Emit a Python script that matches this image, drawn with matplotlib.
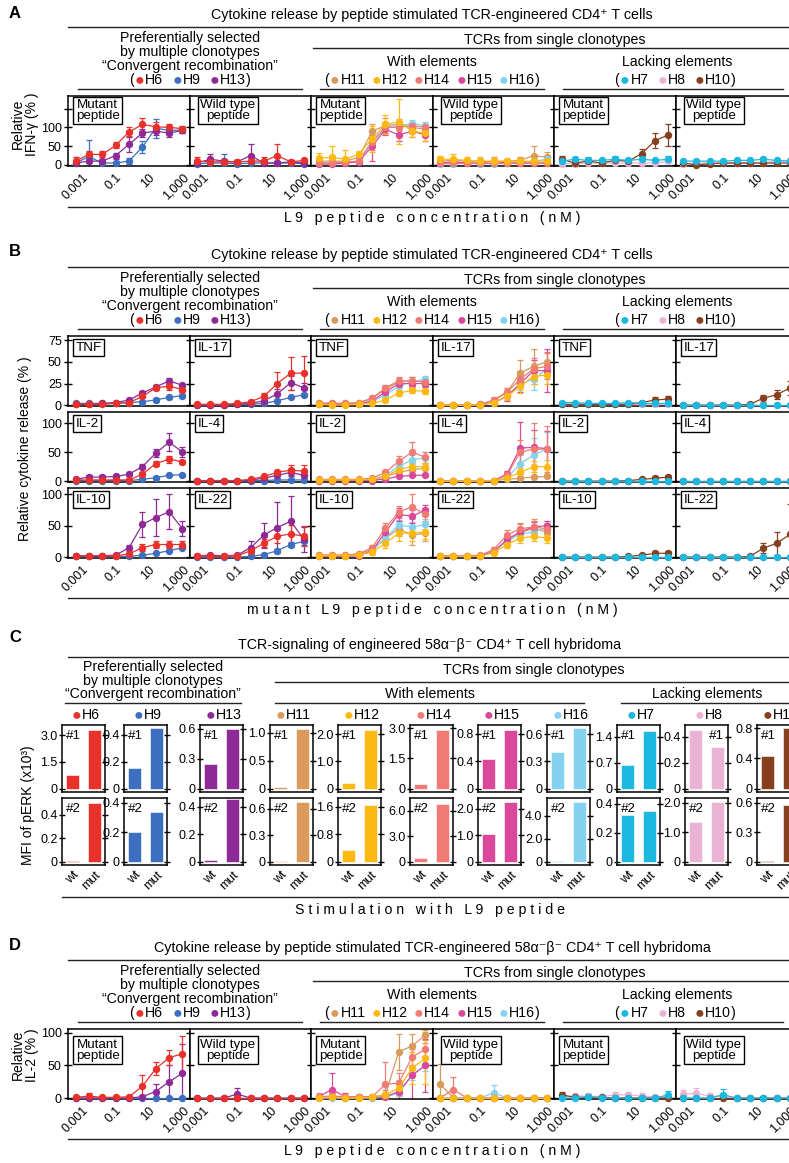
import matplotlib
matplotlib.use("Agg")
import matplotlib.pyplot as plt
from matplotlib.lines import Line2D
from matplotlib.ticker import NullLocator

plt.rcParams['font.family'] = ['Liberation Sans', 'DejaVu Sans']
plt.rcParams['axes.linewidth'] = 1.1

# 数据
conc = [0.0004, 0.0025, 0.016, 0.1, 0.64, 4, 25, 160, 1000]

COL = {"H6": "#e8312b", "H9": "#3d6fc0", "H13": "#8e2a96",
       "H11": "#d99a5c", "H12": "#fdb913", "H14": "#f07b74", "H15": "#d9489a", "H16": "#82d2f0",
       "H7": "#1bb8e0", "H8": "#ebb3d3", "H10": "#86401f"}
G1 = ["H6", "H9", "H13"]
G2 = ["H11", "H12", "H14", "H15", "H16"]
G3 = ["H7", "H8", "H10"]
# 绘制顺序（后画的在上面）
ORDER = [["H9", "H13", "H6"], ["H11", "H16", "H15", "H14", "H12"], ["H8", "H10", "H7"]]

# A: IFN-gamma
A_mut = {"H6": [10, 28, 28, 52, 88, 108, 102, 100, 97],
         "H9": [5, 22, 5, 5, 10, 48, 98, 92, 93],
         "H13": [5, 10, 10, 25, 55, 85, 90, 85, 92],
         "H11": [10, 10, 10, 20, 90, 105, 108, 100, 95],
         "H12": [18, 20, 15, 28, 70, 108, 115, 90, 85],
         "H14": [5, 5, 8, 10, 60, 100, 100, 105, 100],
         "H15": [2, 2, 5, 8, 50, 95, 80, 90, 80],
         "H16": [5, 5, 5, 10, 65, 100, 105, 110, 105],
         "H7": [10, 15, 12, 12, 15, 12, 15, 12, 15],
         "H8": [3, 3, 5, 5, 5, 5, 5, 5, 10],
         "H10": [15, 5, 10, 5, 12, 10, 30, 65, 80]}
A_mut_err = {"H6": [10, 10, 8, 8, 12, 18, 12, 8, 8],
             "H9": [15, 45, 5, 5, 8, 15, 25, 8, 8],
             "H13": [5, 5, 5, 8, 20, 10, 10, 10, 8],
             "H11": [8, 8, 8, 8, 20, 20, 15, 15, 15],
             "H12": [15, 30, 25, 10, 35, 25, 60, 15, 20],
             "H14": [5, 5, 5, 5, 20, 15, 10, 10, 10],
             "H15": [5, 5, 5, 5, 40, 15, 15, 15, 15],
             "H16": [5, 5, 5, 5, 15, 15, 10, 10, 10],
             "H7": [5, 5, 8, 5, 8, 5, 8, 5, 8],
             "H8": [3, 3, 3, 3, 3, 3, 3, 3, 5],
             "H10": [10, 5, 8, 5, 8, 5, 12, 20, 30]}
A_wt = {"H6": [10, 8, 8, 8, 10, 10, 25, 8, 12],
        "H9": [3, 5, 5, 3, 5, 5, 5, 5, 3],
        "H13": [5, 15, 10, 8, 25, 5, 5, 8, 5],
        "H11": [10, 12, 10, 10, 8, 10, 12, 25, 20],
        "H12": [15, 15, 12, 10, 10, 10, 10, 10, 10],
        "H14": [5, 5, 5, 5, 5, 5, 5, 5, 5],
        "H15": [5, 8, 5, 5, 10, 5, 5, 5, 5],
        "H16": [3, 3, 5, 3, 3, 5, 5, 10, 15],
        "H7": [10, 10, 10, 10, 12, 12, 15, 12, 10],
        "H8": [3, 5, 5, 5, 5, 5, 5, 10, 12],
        "H10": [5, 0, 3, 5, 5, 5, 5, 5, 5]}
A_wt_err = {"H6": [10, 8, 5, 5, 5, 10, 30, 5, 5],
            "H9": [5, 5, 25, 5, 5, 5, 5, 5, 5],
            "H13": [5, 15, 5, 5, 30, 5, 5, 5, 5],
            "H11": [5, 5, 5, 5, 5, 5, 10, 25, 15],
            "H12": [10, 15, 10, 10, 10, 5, 5, 5, 5],
            "H15": [3, 5, 3, 3, 10, 3, 3, 3, 3],
            "H7": [3, 3, 3, 3, 5, 3, 5, 3, 3],
            "H8": [3, 3, 3, 3, 3, 3, 3, 5, 5],
            "H10": [3, 3, 3, 5, 3, 3, 3, 3, 3]}

# B: 细胞因子
TNF = {"H6": [1, 1, 1, 2, 3, 10, 20, 22, 18],
       "H9": [2, 2, 2, 2, 3, 4, 6, 9, 11],
       "H13": [1, 1, 2, 3, 6, 14, 21, 28, 23],
       "H11": [2, 2, 2, 2, 8, 18, 27, 28, 27],
       "H12": [1, 0, 0, 1, 2, 6, 14, 17, 16],
       "H14": [3, 2, 2, 3, 8, 20, 28, 28, 27],
       "H15": [1, 1, 1, 1, 5, 15, 25, 25, 25],
       "H16": [1, 1, 1, 1, 4, 12, 22, 27, 30],
       "H7": [3, 3, 2, 2, 2, 3, 2, 2, 2],
       "H8": [1, 1, 1, 1, 1, 1, 1, 1, 1],
       "H10": [1, 1, 1, 1, 1, 1, 3, 6, 7]}
TNF_err = {"H6": [1, 1, 1, 1, 1, 2, 3, 4, 3], "H9": [1, 1, 1, 1, 1, 1, 2, 2, 2],
           "H13": [1, 1, 1, 1, 1, 2, 2, 3, 2], "H11": [1, 1, 1, 1, 2, 3, 4, 4, 4],
           "H12": [1, 1, 1, 1, 1, 2, 3, 3, 3], "H14": [1, 1, 1, 1, 2, 3, 4, 4, 4],
           "H15": [1, 1, 1, 1, 1, 3, 4, 4, 4], "H16": [1, 1, 1, 1, 1, 3, 4, 5, 4],
           "H10": [1, 1, 1, 1, 1, 1, 2, 3, 4]}
IL17 = {"H6": [1, 1, 1, 2, 4, 10, 25, 37, 37],
        "H9": [0, 0, 0, 1, 1, 2, 5, 9, 12],
        "H13": [0, 0, 0, 1, 2, 5, 13, 26, 20],
        "H11": [0, 0, 0, 1, 5, 15, 37, 45, 50],
        "H12": [0, 0, 0, 0, 3, 10, 22, 33, 35],
        "H14": [0, 0, 0, 1, 6, 15, 30, 42, 45],
        "H15": [0, 0, 0, 0, 3, 10, 25, 40, 40],
        "H16": [0, 0, 0, 0, 3, 10, 25, 30, 42],
        "H7": [0, 0, 0, 0, 0, 0, 0, 0, 0],
        "H8": [0, 0, 0, 0, 0, 0, 0, 0, 0],
        "H10": [0, 0, 0, 0, 0, 1, 8, 12, 20]}
IL17_err = {"H6": [1, 1, 1, 1, 2, 4, 13, 19, 20], "H13": [1, 1, 1, 1, 1, 3, 6, 8, 6],
            "H11": [1, 1, 1, 1, 3, 5, 15, 20, 12], "H14": [1, 1, 1, 1, 3, 5, 10, 12, 15],
            "H15": [1, 1, 1, 1, 2, 5, 10, 12, 25], "H16": [1, 1, 1, 1, 2, 4, 8, 12, 8],
            "H12": [1, 1, 1, 1, 2, 4, 8, 8, 10], "H10": [0, 0, 0, 0, 0, 1, 4, 5, 8]}
IL2 = {"H6": [2, 2, 2, 2, 2, 12, 30, 38, 33],
       "H9": [1, 1, 1, 1, 1, 3, 6, 10, 11],
       "H13": [3, 7, 7, 8, 12, 25, 48, 67, 50],
       "H11": [2, 2, 2, 2, 2, 8, 15, 20, 22],
       "H12": [2, 2, 2, 2, 3, 8, 20, 25, 25],
       "H14": [3, 3, 3, 3, 5, 15, 34, 50, 41],
       "H15": [1, 1, 1, 1, 1, 4, 8, 10, 10],
       "H16": [2, 2, 2, 2, 3, 10, 25, 37, 40],
       "H7": [1, 1, 1, 1, 1, 1, 1, 1, 1],
       "H8": [0, 0, 0, 0, 0, 0, 0, 0, 0],
       "H10": [0, 0, 0, 0, 0, 1, 3, 5, 7]}
IL2_err = {"H6": [1, 1, 1, 1, 1, 3, 4, 6, 4], "H9": [1, 1, 1, 1, 1, 1, 2, 2, 2],
           "H13": [2, 3, 3, 3, 3, 4, 7, 15, 9], "H14": [1, 1, 1, 1, 2, 5, 10, 18, 10],
           "H16": [1, 1, 1, 1, 1, 3, 5, 8, 10], "H12": [1, 1, 1, 1, 1, 3, 5, 6, 6],
           "H10": [0, 0, 0, 0, 0, 1, 2, 3, 4]}
IL4 = {"H6": [1, 1, 1, 1, 3, 8, 15, 19, 17],
       "H9": [0, 0, 0, 0, 1, 1, 2, 2, 2],
       "H13": [0, 0, 0, 0, 2, 5, 10, 15, 10],
       "H11": [0, 0, 0, 0, 1, 3, 5, 7, 8],
       "H12": [0, 0, 0, 0, 1, 5, 15, 25, 25],
       "H14": [0, 0, 0, 0, 1, 10, 50, 55, 55],
       "H15": [0, 0, 0, 0, 1, 12, 57, 58, 56],
       "H16": [0, 0, 0, 0, 1, 5, 30, 45, 55],
       "H7": [0, 0, 0, 0, 0, 0, 0, 0, 0],
       "H8": [0, 0, 0, 0, 0, 0, 0, 0, 0],
       "H10": [0, 0, 0, 0, 0, 0, 0, 0, 0]}
IL4_err = {"H6": [1, 1, 1, 1, 2, 3, 5, 8, 10], "H13": [1, 1, 1, 1, 1, 2, 4, 6, 5],
           "H12": [0, 0, 0, 0, 1, 3, 8, 10, 12], "H14": [0, 0, 0, 0, 1, 5, 20, 45, 40],
           "H15": [0, 0, 0, 0, 1, 6, 45, 30, 30], "H16": [0, 0, 0, 0, 1, 4, 15, 30, 30]}
IL10 = {"H6": [2, 2, 2, 2, 5, 15, 20, 20, 20],
        "H9": [1, 1, 1, 1, 1, 3, 6, 10, 15],
        "H13": [2, 2, 2, 3, 15, 52, 63, 72, 45],
        "H11": [3, 3, 3, 5, 12, 30, 45, 35, 38],
        "H12": [2, 2, 2, 3, 8, 22, 38, 38, 40],
        "H14": [3, 3, 3, 5, 15, 46, 72, 80, 68],
        "H15": [1, 1, 1, 2, 10, 40, 68, 65, 75],
        "H16": [2, 2, 2, 3, 10, 30, 51, 48, 52],
        "H7": [0, 0, 0, 0, 0, 0, 0, 0, 0],
        "H8": [0, 0, 0, 0, 0, 0, 0, 0, 0],
        "H10": [0, 0, 0, 0, 0, 1, 3, 6, 6]}
IL10_err = {"H6": [1, 1, 1, 1, 2, 6, 6, 6, 6], "H13": [1, 1, 1, 2, 5, 20, 30, 28, 12],
            "H11": [1, 1, 1, 2, 5, 10, 12, 15, 12], "H12": [1, 1, 1, 2, 4, 8, 12, 12, 12],
            "H14": [1, 1, 1, 2, 5, 8, 10, 20, 10], "H15": [1, 1, 1, 1, 3, 8, 10, 10, 8],
            "H16": [1, 1, 1, 1, 3, 6, 8, 8, 8], "H10": [0, 0, 0, 0, 0, 1, 2, 3, 4]}
IL22 = {"H6": [2, 1, 1, 2, 10, 22, 33, 37, 33],
        "H9": [0, 0, 0, 0, 1, 4, 10, 20, 25],
        "H13": [2, 3, 2, 3, 15, 35, 47, 57, 28],
        "H11": [2, 2, 2, 2, 10, 25, 40, 45, 40],
        "H12": [1, 1, 1, 1, 7, 20, 30, 33, 30],
        "H14": [2, 2, 2, 3, 12, 35, 45, 48, 45],
        "H15": [1, 1, 1, 2, 8, 28, 40, 48, 50],
        "H16": [1, 1, 1, 2, 10, 25, 37, 40, 47],
        "H7": [0, 0, 0, 0, 0, 0, 0, 0, 0],
        "H8": [0, 0, 0, 0, 0, 0, 0, 0, 0],
        "H10": [0, 0, 0, 0, 0, 1, 14, 22, 36]}
IL22_err = {"H6": [1, 1, 1, 1, 4, 6, 10, 14, 16], "H9": [0, 0, 0, 0, 1, 2, 3, 4, 5],
            "H13": [1, 2, 1, 1, 10, 20, 40, 40, 20], "H11": [1, 1, 1, 1, 4, 8, 12, 15, 12],
            "H12": [1, 1, 1, 1, 3, 6, 8, 8, 8], "H14": [1, 1, 1, 1, 4, 8, 10, 10, 10],
            "H15": [1, 1, 1, 1, 3, 6, 8, 8, 8], "H16": [1, 1, 1, 1, 3, 6, 8, 8, 10],
            "H10": [0, 0, 0, 0, 0, 1, 8, 18, 48]}

# C: pERK
C_order = ["H6", "H9", "H13", "H11", "H12", "H14", "H15", "H16", "H7", "H8", "H10"]
C1_wt = [0.75, 0.15, 0.25, 0.03, 0.2, 0.25, 0.43, 0.4, 0.65, 0.45, 0.43]
C1_mut = [3.3, 0.45, 0.6, 1.07, 2.15, 2.9, 0.86, 0.67, 1.55, 0.32, 0.8]
C2_wt = [0.01, 0.2, 0.01, 0.01, 0.35, 0.5, 1.05, 0.05, 0.32, 1.35, 0.01]
C2_mut = [0.5, 0.34, 0.46, 0.68, 1.65, 6.8, 2.25, 5.2, 0.35, 2.05, 0.58]
C1_ticks = [1.5, 0.2, 0.3, 0.5, 1.0, 1.5, 0.4, 0.3, 0.7, 0.2, 0.4]
C2_ticks = [0.2, 0.2, 0.2, 0.3, 0.8, 3.0, 1.0, 2.0, 0.2, 1.0, 0.3]
C1_top = [3.56, 0.47, 0.64, 1.14, 2.33, 3.15, 0.93, 0.70, 1.72, 0.49, 0.84]
C2_top = [0.545, 0.434, 0.465, 0.72, 1.86, 7.5, 2.41, 5.57, 0.44, 2.17, 0.65]

# D: IL-2 (hybridoma)
D_mut = {"H6": [1, 3, 1, 1, 2, 18, 45, 62, 68],
         "H9": [0, 0, 0, 0, 0, 0, 0, 0, 0],
         "H13": [0, 0, 0, 0, 0, 2, 10, 25, 38],
         "H11": [0, 2, 0, 1, 2, 5, 71, 80, 97],
         "H12": [0, 1, 0, 0, 1, 5, 15, 46, 61],
         "H14": [2, 3, 2, 2, 2, 21, 23, 63, 75],
         "H15": [2, 13, 2, 2, 1, 2, 10, 35, 50],
         "H16": [0, 0, 0, 0, 0, 1, 8, 35, 51],
         "H7": [0, 0, 2, 0, 0, 0, 0, 0, 5],
         "H8": [2, 3, 3, 2, 5, 5, 3, 2, 2],
         "H10": [5, 1, 1, 1, 0, 0, 0, 0, 0]}
D_mut_err = {"H6": [2, 5, 2, 2, 2, 18, 10, 12, 28], "H13": [1, 1, 1, 1, 1, 3, 12, 25, 45],
             "H11": [2, 5, 2, 3, 3, 8, 28, 18, 8], "H12": [1, 2, 1, 1, 2, 5, 12, 25, 40],
             "H14": [5, 5, 3, 3, 3, 35, 15, 12, 10], "H15": [3, 25, 5, 3, 3, 5, 15, 45, 40],
             "H16": [1, 1, 1, 1, 1, 2, 5, 8, 10], "H7": [1, 1, 4, 1, 1, 1, 1, 1, 6],
             "H8": [3, 3, 5, 3, 5, 5, 5, 3, 3], "H10": [4, 2, 2, 2, 1, 1, 1, 1, 1]}
D_wt = {"H6": [0, 0, 0, 0, 0, 0, 0, 0, 0],
        "H9": [0, 0, 0, 0, 0, 0, 0, 0, 0],
        "H13": [0, 0, 0, 6, 0, 0, 0, 0, 0],
        "H11": [22, 0, 0, 0, 0, 0, 0, 0, 0],
        "H12": [0, 0, 0, 0, 0, 0, 0, 0, 0],
        "H14": [0, 13, 0, 0, 0, 0, 0, 0, 0],
        "H15": [0, 0, 0, 0, 0, 0, 0, 0, 0],
        "H16": [0, 0, 0, 0, 8, 0, 0, 0, 0],
        "H7": [0, 0, 0, 5, 0, 0, 0, 0, 0],
        "H8": [6, 7, 3, 2, 0, 0, 0, 0, 0],
        "H10": [0, 0, 0, 0, 0, 0, 0, 0, 0]}
D_wt_err = {"H13": [0, 0, 0, 10, 0, 0, 0, 0, 0], "H11": [30, 0, 0, 0, 0, 0, 0, 0, 0],
            "H14": [0, 20, 0, 0, 0, 0, 0, 0, 0], "H16": [0, 0, 0, 0, 12, 0, 0, 0, 0],
            "H7": [0, 0, 0, 9, 0, 0, 0, 0, 0], "H8": [6, 8, 4, 3, 0, 0, 0, 0, 0]}

xtick_vals = [0.001, 0.1, 10, 1000]
xtick_text = ["0.001", "0.1", "10", "1,000"]

# 画布（像素坐标，原点在左上）
W, H = 789, 1163
fig = plt.figure(figsize=(W / 100, H / 100), dpi=100)
fig.patch.set_facecolor("white")
rend = fig.canvas.get_renderer()

FS = 10.2     # 一般文字
TFS = 9       # 刻度文字


def fx(x):
    return x / W


def fy(y):
    return 1 - y / H


def hline(x0, x1, y):
    fig.add_artist(Line2D([fx(x0), fx(x1)], [fy(y), fy(y)], transform=fig.transFigure,
                          color="#222222", lw=1.0))


def ftext(x, y, s, fs=FS, **kw):
    ha = kw.pop("ha", "center")
    va = kw.pop("va", "center")
    return fig.text(fx(x), fy(y), s, fontsize=fs, ha=ha, va=va, **kw)


def add_ax(left, top, w, h):
    return fig.add_axes([fx(left), fy(top + h), w / W, h / H])


def spaced(s):
    return "   ".join(" ".join(w) for w in s.split())


def dot_row(names, cx, y, fs=FS, paren=True, gap=9):
    parts = []
    if paren:
        parts.append(("(", "black", fs, 1))
    for i, n in enumerate(names):
        parts.append(("●", COL[n], fs * 1.15, 0.5))
        parts.append((n, "black", fs, 0 if i == len(names) - 1 else gap))
    if paren:
        parts.append((")", "black", fs, 0))
    x = 0
    placed = []
    for s, c, f, g in parts:
        t = fig.text(0, fy(y), s, color=c, fontsize=f, ha="left", va="center")
        w = t.get_window_extent(rend).width
        placed.append((t, x))
        x += w + g
    x0 = cx - x / 2
    for t, dx in placed:
        t.set_x(fx(x0 + dx))


PREF = ["Preferentially selected", "by multiple clonotypes", "\u201cConvergent recombination\u201d"]


def header(off, title):
    ftext(432, 15 + off, title, fs=10.3)
    hline(68, 800, 27 + off)
    ftext(555, 40 + off, "TCRs from single clonotypes")
    hline(313, 800, 48 + off)
    for k, s in enumerate(PREF):
        ftext(190, 38 + off + 14 * k, s)
    dot_row(G1, 190, 80 + off)
    hline(78, 302, 89 + off)
    ftext(432, 62 + off, "With elements")
    dot_row(G2, 432, 80 + off, gap=6)
    hline(320, 544, 89 + off)
    ftext(677, 62 + off, "Lacking elements")
    dot_row(G3, 675, 80 + off)
    hline(563, 783, 89 + off)


def line_panel(ax, data, errs, clones, ylim, yticks, ylabels, show_y, show_x):
    for h in clones:
        if h in errs:
            ax.errorbar(conc, data[h], yerr=errs[h], fmt="none", ecolor=COL[h],
                        elinewidth=0.9, capsize=2.2, capthick=0.9, zorder=2)
        ax.plot(conc, data[h], "-o", color=COL[h], ms=4.3, lw=0.9, clip_on=False, zorder=3)
    ax.set_xscale("log")
    ax.set_xlim(10 ** -3.85, 10 ** 3.42)
    ax.xaxis.set_minor_locator(NullLocator())
    ax.set_xticks(xtick_vals)
    if show_x:
        ax.set_xticklabels(xtick_text, rotation=45, ha="right", va="top",
                           rotation_mode="anchor", fontsize=TFS)
    else:
        ax.set_xticklabels([])
    ax.tick_params(axis="x", length=0, pad=4)
    ax.set_ylim(*ylim)
    ax.set_yticks(yticks)
    ax.set_yticklabels(ylabels if show_y else [], fontsize=TFS)
    ax.tick_params(axis="y", direction="inout", length=6, width=1.0, pad=1.5)


def box_label(ax, s, x=0.065, y=0.955):
    ax.text(x, y, s, transform=ax.transAxes, ha="left", va="top", fontsize=9.6,
            multialignment="center", linespacing=0.88, zorder=6,
            bbox=dict(boxstyle="square,pad=0.18", fc="white", ec="black", lw=1.0))


COLW = 121.5
ylab_kw = dict(rotation=90, linespacing=1.0, fs=10)
XL_FS = 10.2

# ---------------- A ----------------
ftext(15, 13, "A", fs=12, weight="bold")
header(0, "Cytokine release by peptide stimulated TCR-engineered CD4\u207a T cells")
for g in range(3):
    for j, (dat, err, lab) in enumerate([(A_mut, A_mut_err, "Mutant\npeptide"),
                                         (A_wt, A_wt_err, "Wild type\npeptide")]):
        c = 2 * g + j
        ax = add_ax(68 + c * COLW, 96, COLW, 70)
        line_panel(ax, dat, err, ORDER[g], (-3, 184), [0, 50, 100, 150],
                   ["0", "50", "100", ""], c == 0, True)
        box_label(ax, lab, x=0.065 if j == 0 else 0.09)
ftext(25, 124, "Relative\nIFN-\u03b3 (% )", **ylab_kw)
hline(68, 800, 207)
ftext(432, 218, spaced("L9 peptide concentration (nM)"), fs=XL_FS)

# ---------------- B ----------------
ftext(15, 251, "B", fs=12, weight="bold")
header(240, "Cytokine release by peptide stimulated TCR-engineered CD4\u207a T cells")
rows = [((TNF, TNF_err, "TNF"), (IL17, IL17_err, "IL-17"), (-1, 80), [0, 25, 50, 75]),
        ((IL2, IL2_err, "IL-2"), (IL4, IL4_err, "IL-4"), (-1.5, 119), [0, 50, 100]),
        ((IL10, IL10_err, "IL-10"), (IL22, IL22_err, "IL-22"), (-1.5, 110), [0, 50, 100])]
row_tops = [336, 412, 488]
for r, (left_c, right_c, ylim, yt) in enumerate(rows):
    for g in range(3):
        for j, (dat, err, lab) in enumerate([left_c, right_c]):
            c = 2 * g + j
            ax = add_ax(68 + c * COLW, row_tops[r], COLW, 70)
            line_panel(ax, dat, err, ORDER[g], ylim, yt, [str(v) for v in yt],
                       c == 0, r == 2)
            box_label(ax, lab, x=0.065, y=0.92)
ftext(25, 449, "Relative cytokine release (% )", **ylab_kw)
hline(68, 800, 598)
ftext(432, 610, spaced("mutant L9 peptide concentration (nM)"), fs=XL_FS)

# ---------------- C ----------------
ftext(15, 638, "C", fs=12, weight="bold")
ftext(430, 645, "TCR-signaling of engineered 58\u03b1\u207b\u03b2\u207b CD4\u207a T cell hybridoma", fs=10.3)
hline(68, 800, 657)
ftext(534, 670, "TCRs from single clonotypes")
hline(275, 800, 682)
for k, s in enumerate(PREF):
    ftext(153, 667 + 13.5 * k, s)
hline(65, 241, 703)
ftext(430, 694, "With elements")
hline(275, 584, 703)
ftext(707, 694, "Lacking elements")
hline(621, 800, 703)

bar_lefts = [62, 124, 200, 270, 338, 410, 478, 547, 617, 685, 757]
BW = 43


def fmt(v):
    return "%.1f" % v


for i, h in enumerate(C_order):
    dot_row([h], bar_lefts[i] + BW / 2 + 2, 715, paren=False)
    for r, (wt, mut, tk, top, tag, t0) in enumerate([(C1_wt, C1_mut, C1_ticks, C1_top, "#1", 725),
                                                       (C2_wt, C2_mut, C2_ticks, C2_top, "#2", 798)]):
        ax = add_ax(bar_lefts[i], t0, BW, 67)
        ax.bar([0, 1], [wt[i], mut[i]], width=0.6, color=COL[h], edgecolor="white", linewidth=0.4)
        ax.set_xlim(-0.48, 1.48)
        ax.set_ylim(-0.05 * top[i], top[i])
        ax.set_yticks([0, tk[i], 2 * tk[i]])
        ax.set_yticklabels(["0", fmt(tk[i]), fmt(2 * tk[i])], fontsize=TFS)
        ax.tick_params(axis="y", direction="inout", length=4.5, width=1.0, pad=1,
                       right=True)
        ax.set_xticks([0, 1])
        if r == 1:
            ax.set_xticklabels(["wt", "mut"], rotation=45, ha="right", va="top",
                               rotation_mode="anchor", fontsize=TFS)
        else:
            ax.set_xticklabels([])
        ax.tick_params(axis="x", length=0, pad=3)
        if h == "H8" and r == 0:
            ax.text(0.9, 0.92, tag, transform=ax.transAxes, ha="right", va="top", fontsize=9.6)
        else:
            ax.text(0.1, 0.92, tag, transform=ax.transAxes, ha="left", va="top", fontsize=9.6)
ftext(28, 805, "MFI of pERK (x10\u00b3)", **ylab_kw)
hline(62, 800, 897)
ftext(430, 910, spaced("Stimulation with L9 peptide"), fs=XL_FS)

# ---------------- D ----------------
ftext(15, 945, "D", fs=12, weight="bold")
header(933, "Cytokine release by peptide stimulated TCR-engineered 58\u03b1\u207b\u03b2\u207b CD4\u207a T cell hybridoma")
for g in range(3):
    for j, (dat, err, lab) in enumerate([(D_mut, D_mut_err, "Mutant\npeptide"),
                                         (D_wt, D_wt_err, "Wild type\npeptide")]):
        c = 2 * g + j
        ax = add_ax(68 + c * COLW, 1029, COLW, 70)
        line_panel(ax, dat, err, ORDER[g], (-1.5, 106), [0, 50, 100],
                   ["0", "50", "100"], c == 0, True)
        box_label(ax, lab, x=0.065 if j == 0 else 0.09, y=0.86)
ftext(25, 1055, "Relative\nIL-2 (% )", **ylab_kw)
hline(68, 800, 1139)
ftext(432, 1151, spaced("L9 peptide concentration (nM)"), fs=XL_FS)

fig.savefig("out.png", dpi=100)
